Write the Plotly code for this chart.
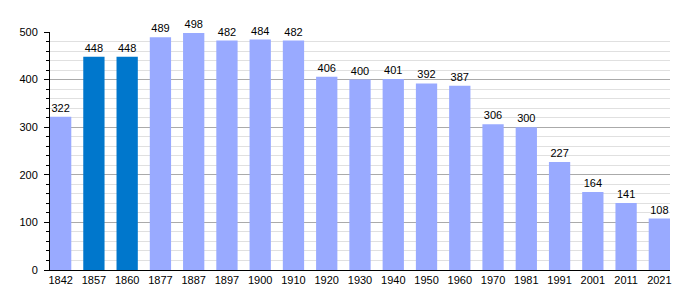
import plotly.graph_objects as go

years = ["1842", "1857", "1860", "1877", "1887", "1897", "1900", "1910", "1920", "1930",
         "1940", "1950", "1960", "1970", "1981", "1991", "2001", "2011", "2021"]
population = [322, 448, 448, 489, 498, 482, 484, 482, 406, 400,
              401, 392, 387, 306, 300, 227, 164, 141, 108]
highlight = ["1857", "1860"]

colors = ["#0077cc" if y in highlight else "#99aaff" for y in years]

fig = go.Figure(go.Bar(
    x=years, y=population,
    marker=dict(color=colors, line=dict(width=0)),
    text=[str(v) for v in population],
    textposition="outside",
    textfont=dict(family="Liberation Sans, Arial, sans-serif", size=11, color="black"),
    cliponaxis=False,
))

fig.update_layout(
    width=700, height=300,
    margin=dict(l=50, r=30, t=32, b=30),
    paper_bgcolor="white", plot_bgcolor="white",
    bargap=0.36,
    showlegend=False,
    font=dict(family="Liberation Sans, Arial, sans-serif", size=11, color="black"),
    xaxis=dict(
        type="category", range=[-0.32, 18.32],
        showline=True, linecolor="black", linewidth=1,
        ticks="", showgrid=False, tickfont=dict(size=11),
    ),
    yaxis=dict(
        range=[0, 500], dtick=100,
        showline=True, linecolor="black", linewidth=1,
        ticks="outside", ticklen=5, tickcolor="black",
        ticklabelstandoff=4,
        showgrid=True, gridcolor="#aaaaaa", gridwidth=1,
        minor=dict(dtick=20, showgrid=True, gridcolor="#e0e0e0",
                   ticks="outside", ticklen=3, tickcolor="black"),
        zeroline=False, tickfont=dict(size=11),
    ),
)

fig.write_html("out.html")
